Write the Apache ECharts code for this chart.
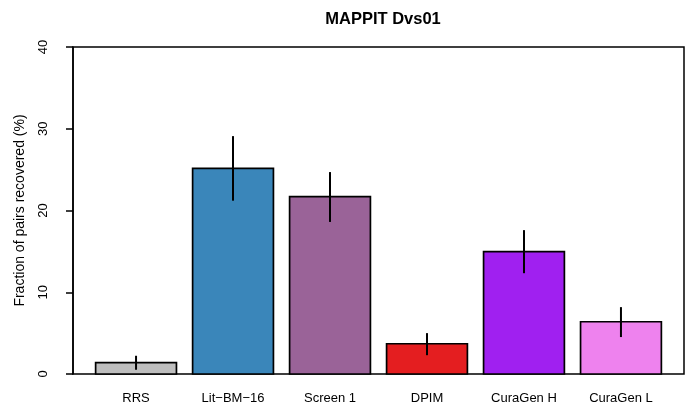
<!DOCTYPE html>
<html>
<head>
<meta charset="utf-8">
<script src="https://cdn.jsdelivr.net/npm/echarts@6/dist/echarts.min.js"></script>
<style>
  html, body { margin: 0; padding: 0; background: #fff; }
  #chart { width: 690px; height: 412px; }
</style>
</head>
<body>
<div id="chart"></div>
<script>
// Recovery fractions per reference set, with confidence intervals
const categories = ['RRS', 'Lit\u2212BM\u221216', 'Screen 1', 'DPIM', 'CuraGen H', 'CuraGen L'];
const values = [1.38, 25.15, 21.7, 3.7, 14.97, 6.39];
const lower  = [0.52, 21.2, 18.6, 2.3, 12.33, 4.52];
const upper  = [2.23, 29.1, 24.7, 5.0, 17.6, 8.18];
const barColors = ['#BEBEBE', '#3A86BA', '#9A6398', '#E41E20', '#A020F0', '#EE82EE'];
const yTicks = [0, 10, 20, 30, 40];

// barplot-style layout: unit-width bars separated by 0.2, range padded by 4%
const space = 0.2;
const centers = categories.map((_, i) => space + i * (1 + space) + 0.5);
const span = categories.length * (1 + space) - space;
const xMin = space - 0.04 * span;
const xMax = space + span + 0.04 * span;

const FONT = '"Liberation Sans", Arial, Helvetica, sans-serif';

const chart = echarts.init(document.getElementById('chart'), null, { renderer: 'canvas' });

chart.setOption({
  animation: false,
  backgroundColor: '#ffffff',
  title: {
    text: 'MAPPIT Dvs01',
    left: 378,
    textAlign: 'center',
    top: 6,
    textStyle: { fontFamily: FONT, fontSize: 16.5, fontWeight: 'bold', color: '#000' }
  },
  grid: {
    left: 73, right: 6, top: 47, bottom: 38,
    show: true,
    borderColor: '#000',
    borderWidth: 1.5,
    backgroundColor: 'transparent'
  },
  xAxis: {
    type: 'value',
    min: xMin,
    max: xMax,
    axisLine: { show: false },
    axisTick: { show: false },
    splitLine: { show: false },
    axisLabel: {
      customValues: centers,
      formatter: function (v) {
        let best = 0;
        centers.forEach((c, i) => { if (Math.abs(c - v) < Math.abs(centers[best] - v)) best = i; });
        return categories[best];
      },
      margin: 18,
      fontFamily: FONT,
      fontSize: 13,
      color: '#000'
    }
  },
  yAxis: {
    type: 'value',
    min: yTicks[0],
    max: yTicks[yTicks.length - 1],
    interval: yTicks[1] - yTicks[0],
    name: 'Fraction of pairs recovered (%)',
    nameLocation: 'middle',
    nameRotate: 90,
    nameGap: 46,
    nameTextStyle: { fontFamily: FONT, fontSize: 14, color: '#000' },
    axisLine: { show: true, onZero: false, lineStyle: { color: '#000', width: 1.5 } },
    axisTick: { show: true, length: 7, lineStyle: { color: '#000', width: 1.5 } },
    splitLine: { show: false },
    axisLabel: {
      rotate: 90,
      margin: 23,
      fontFamily: FONT,
      fontSize: 13,
      color: '#000'
    }
  },
  series: [{
    type: 'custom',
    data: categories.map((_, i) => [centers[i], values[i], lower[i], upper[i]]),
    encode: { x: 0, y: [1, 2, 3] },
    renderItem: function (params, api) {
      const c = api.value(0), v = api.value(1), lo = api.value(2), hi = api.value(3);
      const tl = api.coord([c - 0.5, v]);
      const br = api.coord([c + 0.5, 0]);
      const eTop = api.coord([c, hi]);
      const eBot = api.coord([c, lo]);
      return {
        type: 'group',
        children: [
          {
            type: 'rect',
            shape: { x: tl[0], y: tl[1], width: br[0] - tl[0], height: br[1] - tl[1] },
            style: { fill: barColors[params.dataIndex], stroke: '#000', lineWidth: 1.7 }
          },
          {
            type: 'line',
            shape: { x1: eTop[0], y1: eTop[1], x2: eBot[0], y2: eBot[1] },
            style: { stroke: '#000', lineWidth: 2 }
          }
        ]
      };
    }
  }]
});
</script>
</body>
</html>
